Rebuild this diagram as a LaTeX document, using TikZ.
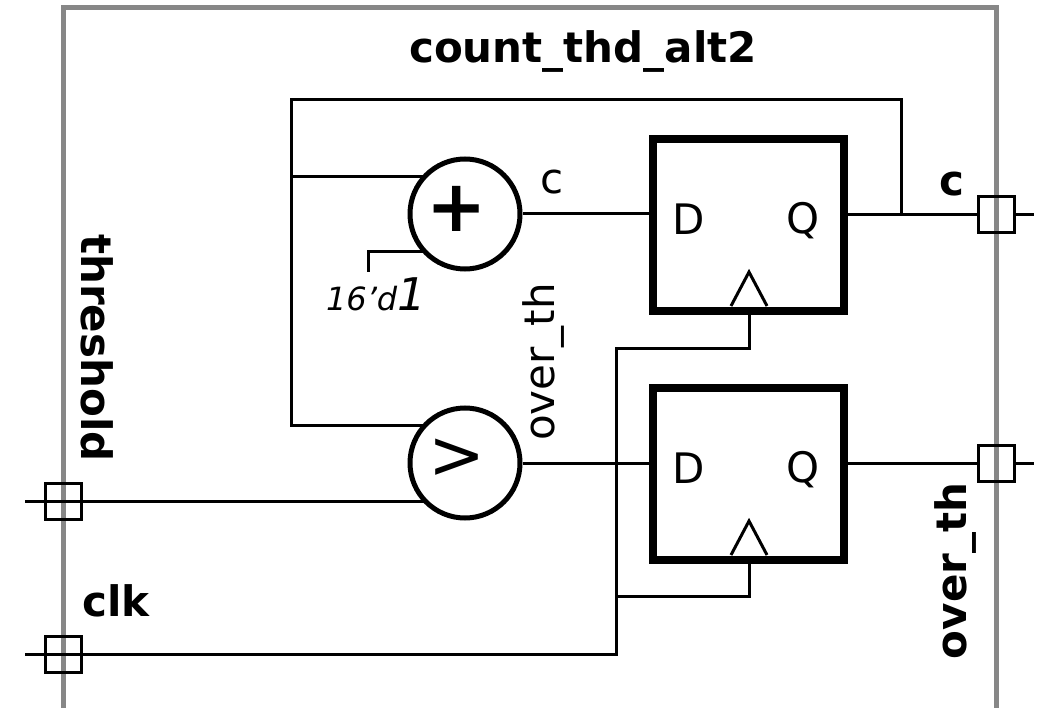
\documentclass[tikz,border=0pt]{standalone}
\usepackage{fontspec}
\setmainfont{DejaVu Sans}
\begin{document}
\begin{tikzpicture}[x=1pt,y=-1pt,
  wire/.style={line width=3pt},
  border/.style={draw=black!47,line width=5pt},
  port/.style={draw,line width=3pt,minimum size=36pt,inner sep=0pt},
  opcirc/.style={circle,draw,fill=white,line width=5pt,minimum size=110pt,inner sep=0pt},
  dffbox/.style={draw,fill=white,line width=8pt,minimum width=191pt,minimum height=172pt,inner sep=0pt},
  clktri/.style={line width=3pt,line join=miter},
  lbl/.style={font=\fontsize{42}{50}\selectfont,inner sep=0pt},
  blbl/.style={font=\fontsize{42}{50}\selectfont\bfseries,inner sep=0pt}]
\useasboundingbox (0,0) rectangle (1043,708);
% module border
\draw[border] (63,715) -- (63,8) -- (996,8) -- (996,715);
\node[blbl] (title) at (583,52) {count\_thd\_alt2};
% ports
\node[port] (pthr) at (63,501) {};
\node[port] (pclk) at (63,654) {};
\node[port] (pc) at (996,215) {};
\node[port] (pov) at (996,463) {};
\coordinate (thrin) at (25,501);
\coordinate (clkin) at (25,654);
\coordinate (cout) at (1034,215);
\coordinate (ovout) at (1034,463);
% wire junction coordinates
\coordinate (fbq) at (901,215);
\coordinate (fbtr) at (901,100);
\coordinate (fbtl) at (291,100);
\coordinate (fbadd) at (291,177);
\coordinate (fbcmp) at (291,425);
\coordinate (kconst) at (368,272);
\coordinate (kbend) at (368,252);
\coordinate (clkj1) at (616,596);
\coordinate (clkj2) at (616,348);
\coordinate (clkb1) at (749,348);
\coordinate (clkb2) at (749,596);
\coordinate (ck1) at (749,311);
\coordinate (ck2) at (749,560);
% wires (drawn under the cells)
\draw[wire] (fbq) -- (fbtr) -- (fbtl) -- (fbcmp) -- (440,425);
\draw[wire] (fbadd) -- (440,177);
\draw[wire] (kconst) -- (kbend) -- (440,252);
\draw[wire] (thrin) -- (440,501);
\draw[wire] (clkin) -- (616,654) -- (clkj2) -- (clkb1) -- (ck1);
\draw[wire] (clkj1) -- (clkb2) -- (ck2);
% cells
\node[opcirc] (adder) at (465,214) {};
\node[opcirc] (cmp) at (465,463) {};
\node[dffbox] (dff1) at (748.5,225) {};
\node[dffbox] (dff2) at (748.5,474) {};
\node[font=\fontsize{72}{80}\selectfont\bfseries,inner sep=0pt] (plus) at (457,209) {+};
\node[font=\fontsize{68}{80}\selectfont,inner sep=0pt] (gt) at (457,459) {>};
% clock triangles
\draw[clktri] (731,306) -- (749,272) -- (767,306);
\draw[clktri] (731,555) -- (749,521) -- (767,555);
\node[lbl] (d1) at (689,219) {D};
\node[lbl] (q1) at (803,221) {Q};
\node[lbl] (d2) at (689,468) {D};
\node[lbl] (q2) at (803,470) {Q};
% remaining wires
\draw[wire] (adder.east) -- (adder.east -| dff1.west);
\draw[wire] (cmp.east) -- (cmp.east -| dff2.west);
\draw[wire] (dff1.east |- pc) -- (pc) -- (cout);
\draw[wire] (dff2.east |- pov) -- (pov) -- (ovout);
\draw[wire] (pthr) -- (thrin);
\draw[wire] (pclk) -- (clkin);
% labels
\node[lbl] (lc) at (552,182) {c};
\node[lbl,rotate=90] (lov) at (543,362) {over\_th};
\node[anchor=base,inner sep=0pt] (kval) at (376,310) {\fontsize{32}{36}\selectfont\itshape 16\char"0027 d\fontsize{45}{50}\selectfont 1};
\node[blbl,rotate=-90] (lthr) at (97,348) {threshold};
\node[blbl] (lclk) at (116,601) {clk};
\node[blbl] (lpc) at (952,184) {c};
\node[blbl,rotate=90] (lpov) at (955,571) {over\_th};
\end{tikzpicture}
\end{document}
